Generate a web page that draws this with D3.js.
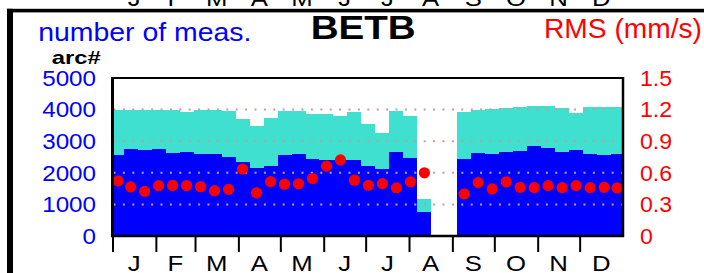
<!DOCTYPE html>
<html><head><meta charset="utf-8">
<script src="https://cdn.jsdelivr.net/npm/d3@7"></script>
<style>html,body{margin:0;padding:0;background:#fff;overflow:hidden}</style>
</head><body>
<svg id="c" width="704" height="273"></svg>
<script>
// ---- data ----
const months = ["J","F","M","A","M","J","J","A","S","O","N","D"];
const monthStartDays = [0,31,59,90,120,151,181,212,243,273,304,334,365];
const binStart = [0,8,18,28,38,48,58,68,78,88,98,108,118,128,138,148,158,168,178,188,198,208,218,
                  246.5,256.5,266.5,276.5,286.5,296.5,306.5,316.5,326.5,336.5,346.5,356.5];
const binEnd   = [8,18,28,38,48,58,68,78,88,98,108,118,128,138,148,158,168,178,188,198,208,218,228,
                  256.5,266.5,276.5,286.5,296.5,306.5,316.5,326.5,336.5,346.5,356.5,365];
const measCount = [4000,3990,4000,3985,3990,3912,3980,3975,3965,3690,3490,3735,3945,3966,3870,3851,3797,3914,3560,3250,3970,3800,1160,
                   3910,3987,4025,4050,4080,4100,4105,4060,3903,4075,4075,4085];
const arcCount  = [2563,2740,2735,2755,2640,2650,2590,2595,2510,2331,2141,2215,2548,2585,2452,2400,2408,2405,2226,2110,2658,2468,745,
                   2430,2625,2600,2645,2705,2848,2774,2669,2715,2600,2560,2580];
const rms = [0.523,0.466,0.424,0.478,0.480,0.479,0.468,0.430,0.443,0.636,0.410,0.516,0.492,0.496,0.546,0.663,0.722,0.530,0.482,0.497,0.457,0.514,0.600,
             0.399,0.508,0.447,0.514,0.462,0.459,0.478,0.459,0.478,0.459,0.462,0.456];
const leftTicks = [0,1000,2000,3000,4000,5000];
const rightTicks = [0,0.3,0.6,0.9,1.2,1.5];
const rightTickLabels = ["0","0.3","0.6","0.9","1.2","1.5"];
const gridValues = [0,1000,2000,3000,4000];

// ---- drawing ----
const svg = d3.select("#c");
const L = 112.5, R = 623, T = 78, B = 236;
const x = d3.scaleLinear().domain([0,365]).range([L, R]);
const yL = d3.scaleLinear().domain([0,5000]).range([B, T]);
const yR = d3.scaleLinear().domain([0,1.5]).range([B, T]);
const FONT = "'Liberation Sans', Arial, Helvetica, sans-serif";

function label(str, px, py, opt) {
  const g = svg.append("g").attr("transform", `translate(${px},${py}) scale(${opt.sx||1},1)`);
  const t = g.append("text").text(str)
    .attr("x",0).attr("y",0)
    .attr("font-family", FONT)
    .attr("font-size", opt.size)
    .attr("font-weight", opt.bold ? "bold" : "normal")
    .attr("fill", opt.color || "#000")
    .attr("text-anchor", opt.anchor || "start");
  if (opt.len) t.attr("textLength", opt.len).attr("lengthAdjust","spacingAndGlyphs");
  return t;
}

const idx = d3.range(binStart.length);
// total measurements (turquoise)
svg.append("g").attr("shape-rendering","crispEdges").selectAll("rect").data(idx).join("rect")
  .attr("x", i => x(binStart[i])).attr("width", i => x(binEnd[i]) - x(binStart[i]))
  .attr("y", i => yL(measCount[i])).attr("height", i => yL(0) - yL(measCount[i]))
  .attr("fill", "#40E0D0");
// arcs (blue)
svg.append("g").attr("shape-rendering","crispEdges").selectAll("rect").data(idx).join("rect")
  .attr("x", i => x(binStart[i])).attr("width", i => x(binEnd[i]) - x(binStart[i]))
  .attr("y", i => yL(arcCount[i])).attr("height", i => yL(0) - yL(arcCount[i]))
  .attr("fill", "#0000FF");

// dotted grid
svg.append("g").selectAll("line").data(gridValues).join("line")
  .attr("x1", L+1).attr("x2", R)
  .attr("y1", d => yL(d)).attr("y2", d => yL(d))
  .attr("stroke", "#c49c9c").attr("stroke-width", 2)
  .attr("stroke-dasharray", "2,7.4");

// RMS dots
svg.append("g").selectAll("circle").data(idx).join("circle")
  .attr("cx", i => x((binStart[i] + binEnd[i]) / 2))
  .attr("cy", i => yR(rms[i]))
  .attr("r", 5.6)
  .attr("fill", "#FF0000");

// plot frame
svg.append("line").attr("x1", L).attr("x2", R).attr("y1", T).attr("y2", T).attr("stroke","#000").attr("stroke-width",2);
svg.append("line").attr("x1", R).attr("x2", R).attr("y1", T-1).attr("y2", B+1).attr("stroke","#000").attr("stroke-width",2.5);
svg.append("line").attr("x1", L-1.5).attr("x2", R+1).attr("y1", B).attr("y2", B).attr("stroke","#000").attr("stroke-width",2.5);
svg.append("line").attr("x1", L).attr("x2", L).attr("y1", T-1).attr("y2", B).attr("stroke","#000").attr("stroke-width",3);

// month ticks via axis
const xAxis = d3.axisBottom(x).tickValues(monthStartDays.slice(0,12)).tickSize(16).tickFormat("");
const ax = svg.append("g").attr("transform", `translate(0,${B})`).call(xAxis);
ax.select(".domain").remove();
ax.selectAll(".tick line").attr("stroke","#000").attr("stroke-width",2);

// month labels (bottom and clipped ones from panel above)
months.forEach((m, i) => {
  const cx = x((monthStartDays[i] + monthStartDays[i+1]) / 2);
  label(m, cx, 271, {size: 23, sx: 1.12, anchor: "middle"});
  label(m, cx, 5.5, {size: 23, sx: 1.12, anchor: "middle"});
});

// left tick labels
leftTicks.forEach(v => label(String(v), 96, yL(v) + 7.8, {size: 22, sx: 1.1, anchor: "end", color: "#0000FF"}));
// right tick labels
rightTicks.forEach((v, i) => label(rightTickLabels[i], 640, yR(v) + 7.8, {size: 22, sx: 1.05, anchor: "start", color: "#FF0000"}));

// titles
label("number of meas.", 38.3, 40.5, {size: 25, color: "#0000FF", len: 213});
label("BETB", 310.7, 39.3, {size: 34, bold: true, len: 105});
label("RMS (mm/s)", 544, 38.3, {size: 27, color: "#FF0000", len: 158});
label("arc#", 51.7, 63.5, {size: 19, bold: true, len: 49});

// outer frame (panel border)
svg.append("rect").attr("x", 7).attr("y", 8.8).attr("width", 697).attr("height", 3.6).attr("fill", "#000");
svg.append("rect").attr("x", 7).attr("y", 8.8).attr("width", 6).attr("height", 265).attr("fill", "#000");
</script>
</body></html>
